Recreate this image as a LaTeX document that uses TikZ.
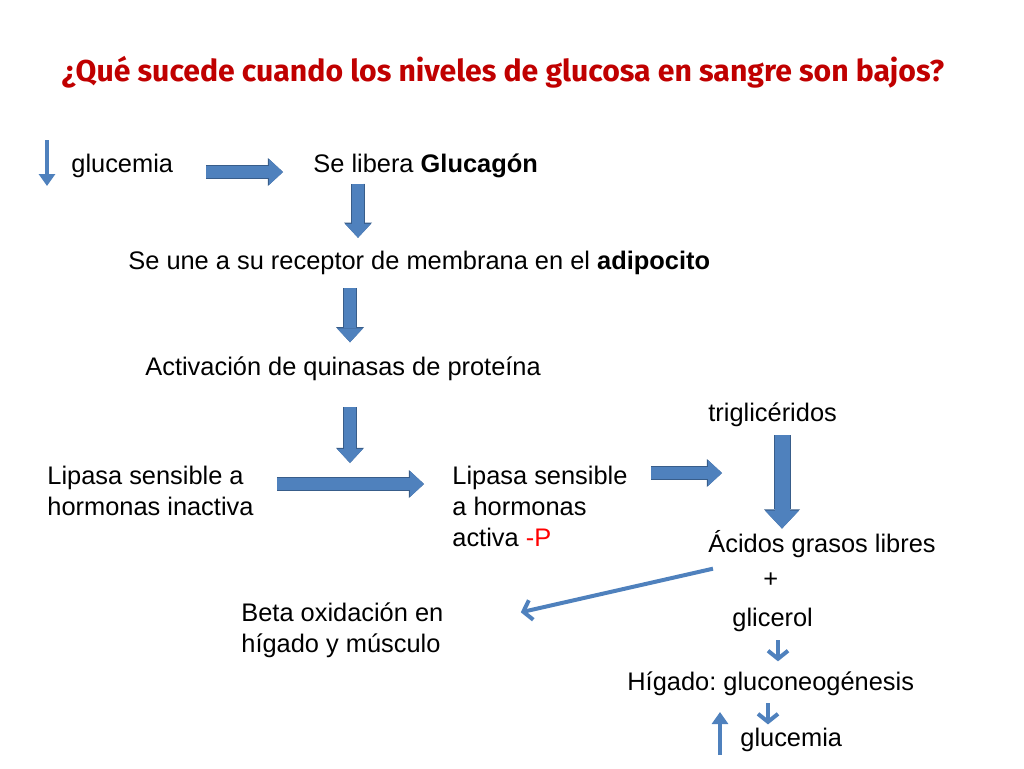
\documentclass[tikz,border=0pt]{standalone}
\usepackage{fontspec}
\setmainfont{Liberation Sans}
\newfontfamily\titlefont{Fira Sans}
\usetikzlibrary{arrows.meta,positioning}
\frenchspacing

\definecolor{arrowblue}{RGB}{79,129,189}
\definecolor{arrowdark}{RGB}{56,93,138}
\definecolor{titlered}{RGB}{192,0,0}

\tikzstyle{txt} = [inner sep=0pt, anchor=base west, align=left, font=\fontsize{12.7}{15.5}\selectfont]
\tikzstyle{blockarrow} = [draw=arrowblue, line width=6pt, -{Triangle[length=7pt, width=13pt, line width=0pt]}, preaction={draw=arrowdark, line width=7pt, -{Triangle[length=7.6pt, width=14pt, line width=0pt]}}]
\tikzstyle{widearrow} = [draw=arrowblue, line width=7.5pt, -{Triangle[length=9pt, width=17pt, line width=0pt]}, preaction={draw=arrowdark, line width=8.5pt, -{Triangle[length=9.6pt, width=18pt, line width=0pt]}}]
\tikzstyle{thinarrow} = [draw=arrowblue, line width=2pt, -{Straight Barb[length=4pt, width=10pt]}]
\tikzstyle{pointer} = [draw=arrowblue, line width=2pt, -{Triangle[length=6pt, width=8pt]}]

\begin{document}
\begin{tikzpicture}[x=0.5pt, y=-0.5pt]
  \useasboundingbox (0,0) rectangle (1024,768);

  \node (title) [font=\titlefont\bfseries\fontsize{15.1}{18}\selectfont, text=titlered] at (503,72) {¿Qué sucede cuando los niveles de glucosa en sangre son bajos?};

  \node (glucemia) [txt] at (71,172) {glucemia};
  \node (glucagon) [txt] at (313,172) {Se libera \textbf{Glucagón}};
  \node (receptor) [txt] at (128,269) {Se une a su receptor de membrana en el \textbf{adipocito}};
  \node (quinasas) [txt] at (145,375) {Activación de quinasas de proteína};
  \node (inactiva) [txt] at (47,515) {Lipasa sensible a\\hormonas inactiva};
  \node (activa) [txt] at (452,546) {Lipasa sensible\\a hormonas\\activa \textcolor{red}{-P}};
  \node (trigliceridos) [txt] at (708,421) {triglicéridos};
  \node (acidos) [txt] at (708,552) {Ácidos grasos libres};
  \node (mas) [txt] at (763,587) {+};
  \node (glicerol) [txt] at (732,626) {glicerol};
  \node (beta) [txt] at (241,652) {Beta oxidación en\\hígado y músculo};
  \node (higado) [txt] at (627,690) {Hígado: gluconeogénesis};
  \node (glucemia alta) [txt] at (740,746) {glucemia};

  % columns of the vertical arrows
  \coordinate (col a) at (358,0);
  \coordinate (col b) at (350,0);
  \coordinate (col c) at (782,0);
  \coordinate (col d) at (778,0);
  \coordinate (col e) at (768,0);
  \coordinate (baja top) at (47,140);
  \coordinate (baja end) at (47,186);
  \coordinate (alta bottom) at (720,755);
  \coordinate (alta end) at (720,712);
  \coordinate (trig in) at (722,473);

  \draw [pointer] (baja top) -- (baja end);
  \draw [blockarrow, shorten <=16.5pt, shorten >=15pt] (glucemia.base east) -- (glucagon.base west);
  \draw [blockarrow, shorten <=2.9pt, shorten >=6.2pt] (glucagon.south -| col a) -- (receptor.north -| col a);
  \draw [blockarrow, shorten <=6.9pt, shorten >=6.8pt] (receptor.south -| col b) -- (quinasas.north -| col b);
  \draw [blockarrow, shorten <=13.3pt, shorten >=26pt] (quinasas.south -| col b) -- (inactiva.base -| col b);
  \draw [blockarrow, shorten <=11.5pt, shorten >=14pt] ([yshift=15.5pt]inactiva.base east) -- ([yshift=31pt]activa.base west);
  \draw [blockarrow, shorten <=11.5pt] ([yshift=36.5pt]activa.base east) -- (trig in);
  \draw [widearrow, shorten <=4.3pt, shorten >=0.5pt] (trigliceridos.south -| col c) -- (acidos.north -| col c);
  \draw [thinarrow, shorten >=39.5pt] ([shift={(2.5pt,-5.5pt)}]acidos.south west) -- (beta.east);
  \draw [thinarrow, shorten <=4.3pt, shorten >=4.8pt] (glicerol.south -| col d) -- (higado.north -| col d);
  \draw [thinarrow, shorten <=3.9pt, shorten >=1.4pt] (higado.south -| col e) -- (glucemia alta.north -| col e);
  \draw [pointer] (alta bottom) -- (alta end);
\end{tikzpicture}
\end{document}
